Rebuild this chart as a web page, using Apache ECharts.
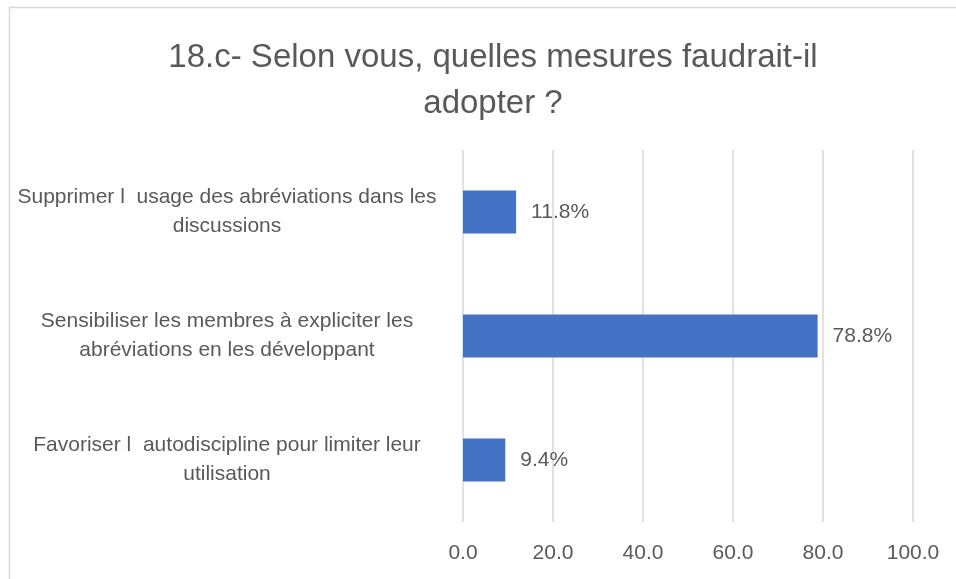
<!DOCTYPE html>
<html>
<head>
<meta charset="utf-8">
<script src="https://cdn.jsdelivr.net/npm/echarts@6/dist/echarts.min.js"></script>
<style>
html, body { margin: 0; padding: 0; background: #fff; }
#container { width: 956px; height: 579px; }
</style>
</head>
<body>
<div id="container"></div>
<script>
var categories = [
    'Supprimer l  usage des abréviations dans les\ndiscussions',
    'Sensibiliser les membres à expliciter les\nabréviations en les développant',
    'Favoriser l  autodiscipline pour limiter leur\nutilisation'
];
var values = [11.8, 78.8, 9.4];
var xTicks = { min: 0, max: 100, interval: 20 };

var textColor = '#595959';
var gridColor = '#d9d9d9';
var fontFamily = "'Liberation Sans', Arial, sans-serif";

var dom = document.getElementById("container");
var myChart = echarts.init(dom);
var option = {
    animation: false,
    textStyle: { fontFamily: fontFamily },
    title: {
        text: '18.c- Selon vous, quelles mesures faudrait-il\nadopter ?',
        left: 488,
        top: 30,
        textAlign: 'center',
        textStyle: {
            color: textColor,
            fontSize: 33,
            fontWeight: 'normal',
            lineHeight: 46,
            fontFamily: fontFamily
        }
    },
    graphic: [
        { type: 'line', shape: { x1: 9, y1: 7.5, x2: 956, y2: 7.5 }, style: { stroke: gridColor, lineWidth: 1.5 } },
        { type: 'line', shape: { x1: 9.5, y1: 7, x2: 9.5, y2: 579 }, style: { stroke: gridColor, lineWidth: 1.5 } }
    ],
    grid: { left: 463, right: 43, top: 150, bottom: 57 },
    xAxis: {
        type: 'value',
        min: xTicks.min,
        max: xTicks.max,
        interval: xTicks.interval,
        axisLine: { show: false },
        axisTick: { show: false },
        splitLine: { lineStyle: { color: gridColor, width: 1.5 } },
        axisLabel: {
            color: textColor,
            fontSize: 21,
            margin: 21,
            formatter: function (v) { return v.toFixed(1); }
        }
    },
    yAxis: {
        type: 'category',
        inverse: true,
        data: categories,
        axisLine: { show: false },
        axisTick: { show: false },
        axisLabel: {
            color: textColor,
            fontSize: 21,
            lineHeight: 29,
            align: 'center',
            padding: [12, 0, 0, 0],
            margin: 236
        }
    },
    series: [{
        type: 'bar',
        data: values,
        barWidth: 43,
        itemStyle: { color: '#4472C4' },
        label: {
            show: true,
            position: 'right',
            distance: 15,
            color: textColor,
            fontSize: 21,
            formatter: function (p) { return p.value.toFixed(1) + '%'; }
        }
    }]
};
myChart.setOption(option, true);
</script>
</body>
</html>
